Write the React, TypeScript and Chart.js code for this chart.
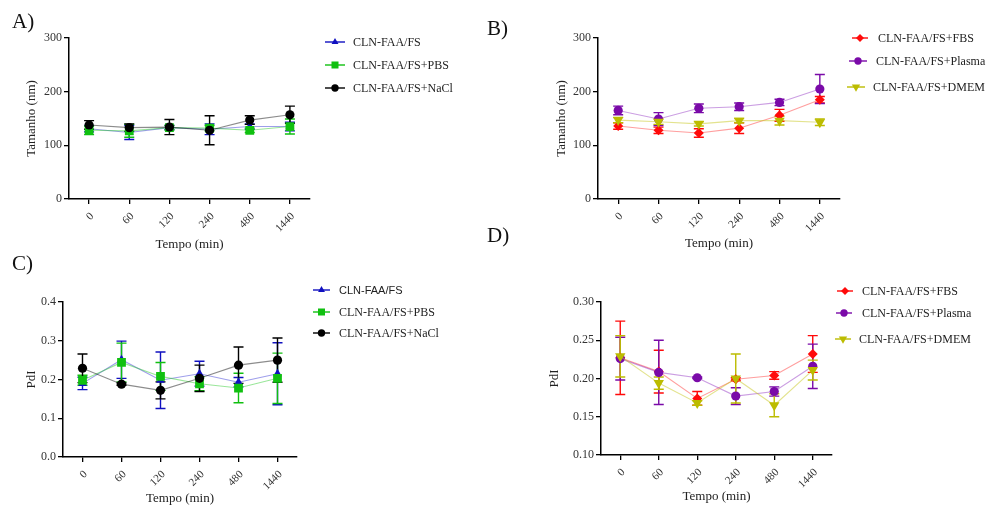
import React, { useEffect, useRef } from 'react';
import { Chart, registerables } from 'chart.js';
import { drawPoint } from 'chart.js/helpers';

Chart.register(...registerables);

// ---------- data ----------
const categories = ['0', '60', '120', '240', '480', '1440'];
const seriesNamesA = ['CLN-FAA/FS', 'CLN-FAA/FS+PBS', 'CLN-FAA/FS+NaCl'];
const seriesNamesB = ['CLN-FAA/FS+FBS', 'CLN-FAA/FS+Plasma', 'CLN-FAA/FS+DMEM'];

// A) Tamanho (nm)
const sizeFS = [131, 124, 133, 130, 135, 135];
const sizeFSErr = [6, 13, 4, 10, 5, 8];
const sizePBS = [128, 127, 133, 132, 128, 135];
const sizePBSErr = [8, 12, 4, 5, 4, 14];
const sizeNaCl = [138, 133, 134, 128, 147, 157];
const sizeNaClErr = [8, 7, 14, 27, 8, 16];

// B) Tamanho (nm)
const sizeFBS = [136, 128, 123, 132, 156, 185];
const sizeFBSErr = [6, 6, 8, 10, 11, 6];
const sizePlasma = [165, 149, 169, 172, 180, 205];
const sizePlasmaErr = [8, 12, 8, 7, 6, 27];
const sizeDMEM = [147, 144, 140, 146, 146, 143];
const sizeDMEMErr = [5, 5, 4, 4, 8, 6];

// C) PdI
const pdiFS = [0.19, 0.251, 0.198, 0.215, 0.193, 0.215];
const pdiFSErr = [0.016, 0.048, 0.073, 0.032, 0.012, 0.08];
const pdiPBS = [0.198, 0.244, 0.208, 0.189, 0.178, 0.203];
const pdiPBSErr = [0.013, 0.05, 0.036, 0.018, 0.038, 0.065];
const pdiNaCl = [0.229, 0.188, 0.172, 0.203, 0.237, 0.25];
const pdiNaClErr = [0.037, 0.003, 0.022, 0.034, 0.047, 0.057];

// D) PdI
const pdiFBS = [0.227, 0.209, 0.174, 0.199, 0.204, 0.232];
const pdiFBSErr = [0.048, 0.028, 0.009, 0.002, 0.005, 0.024];
const pdiPlasma = [0.226, 0.208, 0.201, 0.177, 0.183, 0.216];
const pdiPlasmaErr = [0.028, 0.042, 0.001, 0.011, 0.006, 0.029];
const pdiDMEM = [0.229, 0.194, 0.168, 0.2, 0.165, 0.211];
const pdiDMEMErr = [0.027, 0.008, 0.003, 0.032, 0.015, 0.013];

// ---------- styles ----------
const W = 997;
const H = 506;
const SERIF = "'Liberation Serif', 'Times New Roman', serif";
const SANS = "'Liberation Sans', Arial, sans-serif";

const styleBlue = { color: '#1010c0', line: 'rgba(40,40,210,0.45)', pointStyle: 'triangle', radius: 5, rotation: 0 };
const styleGreen = { color: '#10c010', line: 'rgba(30,200,30,0.45)', pointStyle: 'rect', radius: 6.2, rotation: 0 };
const styleBlack = { color: '#000000', line: 'rgba(0,0,0,0.45)', pointStyle: 'circle', radius: 4.6, rotation: 0 };
const styleRed = { color: '#ff0a0a', line: 'rgba(255,40,40,0.45)', pointStyle: 'rectRot', radius: 5, rotation: 0 };
const stylePurple = { color: '#7a0aa8', line: 'rgba(140,40,190,0.45)', pointStyle: 'circle', radius: 4.6, rotation: 0 };
const styleOlive = { color: '#bcbc00', line: 'rgba(200,200,30,0.5)', pointStyle: 'triangle', radius: 6, rotation: 180 };

type Row = { x0: number; x1: number; y: number; tx: number; font: string };

type Panel = {
  area: { l: number; r: number; t: number; b: number };
  yTitle: string;
  yTitleX: number;
  xTitleY: number;
  yMin: number;
  yMax: number;
  yStep: number;
  decimals: number;
  names: string[];
  values: number[][];
  errors: number[][];
  styles: any[];
  rows: Row[];
  letter: string;
  letterX: number;
  letterY: number;
};

const panels: Panel[] = [
  {
    area: { l: 69, r: 310, t: 38, b: 199 },
    yTitle: 'Tamanho (nm)', yTitleX: 32, xTitleY: 245,
    yMin: 0, yMax: 300, yStep: 100, decimals: 0,
    names: seriesNamesA,
    values: [sizeFS, sizePBS, sizeNaCl],
    errors: [sizeFSErr, sizePBSErr, sizeNaClErr],
    styles: [styleBlue, styleGreen, styleBlack],
    rows: [
      { x0: 325, x1: 345, y: 42, tx: 353, font: `12px ${SERIF}` },
      { x0: 325, x1: 345, y: 65, tx: 353, font: `12px ${SERIF}` },
      { x0: 325, x1: 345, y: 88, tx: 353, font: `12px ${SERIF}` },
    ],
    letter: 'A)', letterX: 12, letterY: 22,
  },
  {
    area: { l: 598, r: 840, t: 38, b: 199 },
    yTitle: 'Tamanho (nm)', yTitleX: 562, xTitleY: 244,
    yMin: 0, yMax: 300, yStep: 100, decimals: 0,
    names: seriesNamesB,
    values: [sizeFBS, sizePlasma, sizeDMEM],
    errors: [sizeFBSErr, sizePlasmaErr, sizeDMEMErr],
    styles: [styleRed, stylePurple, styleOlive],
    rows: [
      { x0: 852, x1: 868, y: 38, tx: 878, font: `12px ${SERIF}` },
      { x0: 849, x1: 867, y: 61, tx: 876, font: `12px ${SERIF}` },
      { x0: 847, x1: 865, y: 87, tx: 873, font: `12px ${SERIF}` },
    ],
    letter: 'B)', letterX: 487, letterY: 29,
  },
  {
    area: { l: 63, r: 297, t: 302, b: 457 },
    yTitle: 'PdI', yTitleX: 32, xTitleY: 499,
    yMin: 0, yMax: 0.4, yStep: 0.1, decimals: 1,
    names: seriesNamesA,
    values: [pdiFS, pdiPBS, pdiNaCl],
    errors: [pdiFSErr, pdiPBSErr, pdiNaClErr],
    styles: [styleBlue, styleGreen, styleBlack],
    rows: [
      { x0: 313, x1: 330, y: 290, tx: 339, font: `11px ${SANS}` },
      { x0: 313, x1: 330, y: 312, tx: 339, font: `12px ${SERIF}` },
      { x0: 313, x1: 330, y: 333, tx: 339, font: `12px ${SERIF}` },
    ],
    letter: 'C)', letterX: 12, letterY: 264,
  },
  {
    area: { l: 601, r: 832, t: 302, b: 455 },
    yTitle: 'PdI', yTitleX: 555, xTitleY: 497,
    yMin: 0.1, yMax: 0.3, yStep: 0.05, decimals: 2,
    names: seriesNamesB,
    values: [pdiFBS, pdiPlasma, pdiDMEM],
    errors: [pdiFBSErr, pdiPlasmaErr, pdiDMEMErr],
    styles: [styleRed, stylePurple, styleOlive],
    rows: [
      { x0: 837, x1: 853, y: 291, tx: 862, font: `12px ${SERIF}` },
      { x0: 836, x1: 852, y: 313, tx: 862, font: `12px ${SERIF}` },
      { x0: 835, x1: 851, y: 339, tx: 859, font: `12px ${SERIF}` },
    ],
    letter: 'D)', letterX: 487, letterY: 236,
  },
];

// ---------- plugins ----------
const errorBarPlugin = {
  id: 'errorBars',
  beforeDatasetsDraw(chart: any) {
    const { ctx } = chart;
    const x = chart.scales.x;
    const y = chart.scales.y;
    chart.data.datasets.forEach((ds: any) => {
      const errs: number[] = ds.errors;
      if (!errs) return;
      ctx.save();
      ctx.strokeStyle = ds.errorColor;
      ctx.lineWidth = 1.4;
      ds.data.forEach((v: number, j: number) => {
        const px = x.getPixelForValue(j);
        const yt = y.getPixelForValue(v + errs[j]);
        const yb = y.getPixelForValue(v - errs[j]);
        ctx.beginPath();
        ctx.moveTo(px, yt);
        ctx.lineTo(px, yb);
        ctx.moveTo(px - 5, yt);
        ctx.lineTo(px + 5, yt);
        ctx.moveTo(px - 5, yb);
        ctx.lineTo(px + 5, yb);
        ctx.stroke();
      });
      ctx.restore();
    });
  },
};

const legendPlugin = {
  id: 'panelLegend',
  afterDraw(chart: any) {
    const cfg = chart.options.plugins.panelLegend;
    if (!cfg) return;
    const { ctx } = chart;
    const p: Panel = cfg.panel;
    ctx.save();
    p.rows.forEach((row, i) => {
      const st = p.styles[i];
      ctx.strokeStyle = st.color;
      ctx.lineWidth = 1.4;
      ctx.beginPath();
      ctx.moveTo(row.x0, row.y);
      ctx.lineTo(row.x1, row.y);
      ctx.stroke();
      ctx.fillStyle = st.color;
      drawPoint(ctx, { pointStyle: st.pointStyle, radius: st.radius * 0.8, rotation: st.rotation, borderWidth: 0 } as any, (row.x0 + row.x1) / 2, row.y);
      ctx.fillStyle = '#222';
      ctx.font = row.font;
      ctx.textAlign = 'left';
      ctx.textBaseline = 'middle';
      ctx.fillText(p.names[i], row.tx, row.y + 1);
    });
    ctx.fillStyle = '#111';
    ctx.font = `21px ${SERIF}`;
    ctx.textAlign = 'left';
    ctx.textBaseline = 'middle';
    ctx.fillText(p.letter, p.letterX, p.letterY);
    ctx.restore();
  },
};

function buildConfig(p: Panel): any {
  const titleFontSize = 13;
  const half = (titleFontSize * 1.2) / 2;
  const padLeft = p.yTitleX - half;
  const padBottom = H - (p.xTitleY + half);
  const yWidth = p.area.l - padLeft;
  const xHeight = p.xTitleY + half - p.area.b;
  const n = p.values.length;
  const yTickFont = { family: SERIF, size: 12 };
  const xTickFont = { family: SERIF, size: 11 };
  const titleFont = { family: SERIF, size: titleFontSize };
  return {
    type: 'line',
    data: {
      labels: categories,
      datasets: p.values.map((vals, i) => ({
        label: p.names[i],
        data: vals,
        errors: p.errors[i],
        errorColor: p.styles[i].color,
        borderColor: p.styles[i].line,
        borderWidth: 1.1,
        backgroundColor: p.styles[i].color,
        pointBackgroundColor: p.styles[i].color,
        pointBorderColor: p.styles[i].color,
        pointBorderWidth: 0,
        pointStyle: p.styles[i].pointStyle,
        pointRadius: p.styles[i].radius,
        pointRotation: p.styles[i].rotation,
        tension: 0,
        fill: false,
        order: n - i,
      })),
    },
    options: {
      animation: false,
      responsive: false,
      events: [],
      layout: { padding: { left: padLeft, top: p.area.t, right: W - p.area.r, bottom: padBottom } },
      plugins: {
        legend: { display: false },
        tooltip: { enabled: false },
        panelLegend: { panel: p },
      },
      scales: {
        x: {
          type: 'category',
          offset: true,
          grid: { display: true, drawOnChartArea: false, drawTicks: true, tickLength: 5, color: '#000', lineWidth: 1.3, offset: false },
          border: { display: true, color: '#000', width: 1.5 },
          ticks: { minRotation: 45, maxRotation: 45, padding: 6, labelOffset: 3, font: xTickFont, color: '#333', autoSkip: false },
          title: { display: true, text: 'Tempo (min)', padding: 0, font: titleFont, color: '#222' },
          afterFit: (s: any) => {
            s.height = xHeight;
            s.paddingLeft = 0;
            s.paddingRight = 0;
          },
        },
        y: {
          type: 'linear',
          min: p.yMin,
          max: p.yMax,
          grid: { display: true, drawOnChartArea: false, drawTicks: true, tickLength: 5, color: '#000', lineWidth: 1.3 },
          border: { display: true, color: '#000', width: 1.5 },
          ticks: {
            stepSize: p.yStep,
            padding: 2,
            font: yTickFont,
            color: '#333',
            callback: (v: any) => Number(v).toFixed(p.decimals),
          },
          title: { display: true, text: p.yTitle, padding: 0, font: titleFont, color: '#222' },
          afterFit: (s: any) => {
            s.width = yWidth;
            s.paddingTop = 0;
            s.paddingBottom = 0;
          },
        },
      },
    },
    plugins: [errorBarPlugin, legendPlugin],
  };
}

function PanelCanvas({ panel }: { panel: Panel }) {
  const ref = useRef<HTMLCanvasElement | null>(null);
  useEffect(() => {
    if (!ref.current) return;
    const chart = new Chart(ref.current, buildConfig(panel));
    return () => chart.destroy();
  }, [panel]);
  return (
    <canvas
      ref={ref}
      width={W}
      height={H}
      style={{ position: 'absolute', left: 0, top: 0, width: W, height: H }}
    />
  );
}

export default function App() {
  return (
    <div style={{ position: 'fixed', left: 0, top: 0, width: W, height: H, background: '#fff' }}>
      {panels.map((p, i) => (
        <PanelCanvas key={i} panel={p} />
      ))}
    </div>
  );
}
